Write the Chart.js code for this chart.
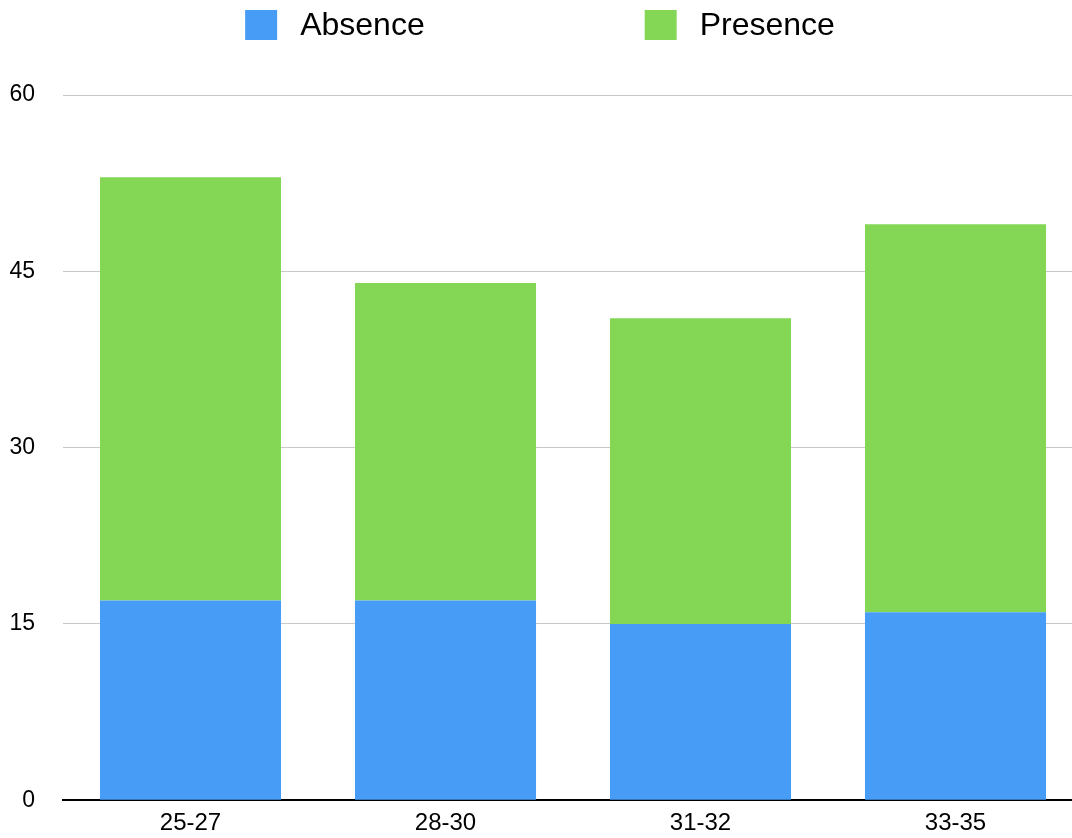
<!DOCTYPE html>
<html>
<head>
<meta charset="utf-8">
<title>Absence / Presence by age group</title>
<script src="https://cdn.jsdelivr.net/npm/chart.js@4.4.1/dist/chart.umd.min.js"></script>
<style>
  html, body { margin: 0; padding: 0; background: #ffffff; overflow: hidden; }
  #wrap { position: relative; width: 1072px; height: 838px; overflow: hidden; }
  canvas { display: block; }
</style>
</head>
<body>
<div id="wrap"><canvas id="chart" width="1090" height="842"></canvas></div>
<script>
// Age groups and counts per group
const categories = ['25-27', '28-30', '31-32', '33-35'];
const absence = [17, 17, 15, 16];
const presence = [36, 27, 26, 33];
const yTicks = [0, 15, 30, 45, 60];

const seriesNames = ['Absence', 'Presence'];
const seriesColors = ['#479df5', '#84d655'];
const FONT = '"Liberation Sans", Arial, Helvetica, sans-serif';

// Legend drawn across the top: square swatch followed by the series name
const topLegend = {
  id: 'topLegend',
  afterDraw(chart) {
    const ctx = chart.ctx;
    const box = 32, boxH = 30, textGap = 23, itemGap = 220;
    ctx.save();
    ctx.font = '32px ' + FONT;
    const items = chart.data.datasets.map(ds => ({
      label: ds.label, color: ds.backgroundColor,
      w: box + textGap + ctx.measureText(ds.label).width
    }));
    const total = items.reduce((s, it) => s + it.w, 0) + itemGap * (items.length - 1);
    let x = 540 - total / 2;
    const cy = 25;
    items.forEach(it => {
      ctx.fillStyle = it.color;
      ctx.fillRect(x, cy - boxH / 2, box, boxH);
      ctx.fillStyle = '#000000';
      ctx.textBaseline = 'middle';
      ctx.textAlign = 'left';
      ctx.fillText(it.label, x + box + textGap, cy + 1);
      x += it.w + itemGap;
    });
    ctx.restore();
  }
};

new Chart(document.getElementById('chart'), {
  type: 'bar',
  data: {
    labels: categories,
    datasets: [
      { label: seriesNames[0], data: absence, backgroundColor: seriesColors[0] },
      { label: seriesNames[1], data: presence, backgroundColor: seriesColors[1] }
    ]
  },
  options: {
    responsive: false,
    animation: false,
    devicePixelRatio: 1,
    // the plot runs a little past the visible right edge
    layout: { padding: { top: 95, right: 7, left: 0, bottom: 0 } },
    datasets: { bar: { barPercentage: 0.71, categoryPercentage: 1.0, borderWidth: 0 } },
    plugins: {
      legend: { display: false },
      tooltip: { enabled: false }
    },
    scales: {
      x: {
        stacked: true,
        grid: { display: false, drawTicks: false },
        border: { display: true, color: '#000000', width: 2 },
        ticks: { color: '#000000', font: { family: FONT, size: 24 }, padding: 9 },
        afterFit(scale) { scale.height = 34; }
      },
      y: {
        stacked: true,
        min: yTicks[0],
        max: yTicks[yTicks.length - 1],
        afterBuildTicks(scale) { scale.ticks = yTicks.map(v => ({ value: v })); },
        grid: { color: '#c8c8c8', lineWidth: 1, drawTicks: false },
        border: { display: false },
        ticks: { color: '#000000', font: { family: FONT, size: 23 }, padding: 28 },
        afterFit(scale) { scale.width = 63; }
      }
    }
  },
  plugins: [topLegend]
});
</script>
</body>
</html>
